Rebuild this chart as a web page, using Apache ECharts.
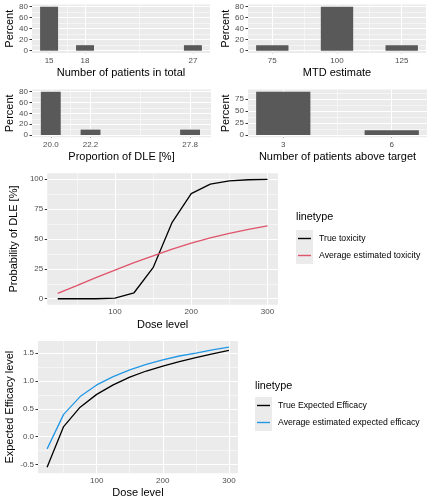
<!DOCTYPE html>
<html>
<head>
<meta charset="utf-8">
<script src="https://cdn.jsdelivr.net/npm/echarts@6/dist/echarts.min.js"></script>
<style>
html, body { margin: 0; padding: 0; background: #fff; }
#main { width: 432px; height: 504px; }
</style>
</head>
<body>
<div id="main"></div>
<script>
// histogram data (percent of simulated trials)
var totalN = [15, 18, 27];
var totalPct = [80, 10, 10];
var mtdEst = [75, 100, 125];
var mtdPct = [10, 80, 10];
var dleProp = [20.0, 22.22, 27.78];
var dlePct = [80, 10, 10];
var aboveN = [3, 6];
var abovePct = [90, 10];

// dose-response curves
var doses = [25, 50, 75, 100, 125, 150, 175, 200, 225, 250, 275, 300];
var trueTox = [0, 0, 0, 0.5, 5, 26, 64, 88, 96, 98.7, 99.6, 99.9];
var estTox = [4.5, 11, 17.6, 24, 30.2, 35.8, 41.5, 46.5, 51, 54.7, 58, 60.9];
var trueEff = [-0.55, 0.18, 0.53, 0.76, 0.93, 1.07, 1.18, 1.27, 1.35, 1.42, 1.49, 1.55];
var estEff = [-0.22, 0.40, 0.72, 0.93, 1.08, 1.20, 1.30, 1.38, 1.45, 1.50, 1.56, 1.61];

// tick labels
var pctTicks = [0, 20, 40, 60, 80];
var aboveTicks = [0, 25, 50, 75];
var doseTicks = [100, 200, 300];
var toxTicks = [0, 25, 50, 75, 100];
var effTicks = [-0.5, 0, 0.5, 1, 1.5];

var FONT = '"Liberation Sans", Arial, sans-serif';
var chart = echarts.init(document.getElementById('main'));

// ggplot style 5% expansion
function expand(lo, hi) {
    var d = (hi - lo) * 0.05;
    return [lo - d, hi + d];
}
// minor breaks halfway between the majors
function minorOf(t, lo, hi) {
    var b = t.slice();
    if (lo < b[0]) b.unshift(b[0] - (b[1] - b[0]));
    if (hi > b[b.length - 1]) b.push(b[b.length - 1] + (b[b.length - 1] - b[b.length - 2]));
    var out = [];
    for (var i = 0; i < b.length - 1; i++) {
        var m = (b[i] + b[i + 1]) / 2;
        if (m > lo && m < hi) out.push(m);
    }
    return out;
}

var grids = [], xAxes = [], yAxes = [], series = [];

function addPanel(idx, box, xr, yr, xt, yt, xName, yName, xFmt, yFmt, gaps) {
    grids.push({
        left: box[0], top: box[1], width: box[2], height: box[3],
        show: true, backgroundColor: '#EBEBEB', borderWidth: 0
    });
    xAxes.push({
        gridIndex: idx, type: 'value', min: xr[0], max: xr[1],
        name: xName, nameLocation: 'middle', nameGap: gaps[0],
        nameTextStyle: { color: '#000', fontSize: 11, fontFamily: FONT },
        axisLine: { show: false },
        axisTick: { show: true, length: 2.5, customValues: xt, lineStyle: { color: '#333', width: 1 } },
        axisLabel: { customValues: xt, margin: gaps[1], color: '#4D4D4D', fontSize: 8, fontFamily: FONT, formatter: xFmt },
        splitLine: { show: false }
    });
    yAxes.push({
        gridIndex: idx, type: 'value', min: yr[0], max: yr[1],
        name: yName, nameLocation: 'middle', nameGap: gaps[2], nameRotate: 90,
        nameTextStyle: { color: '#000', fontSize: 11, fontFamily: FONT },
        axisLine: { show: false },
        axisTick: { show: true, length: 2.5, customValues: yt, lineStyle: { color: '#333', width: 1 } },
        axisLabel: { customValues: yt, margin: 4, color: '#4D4D4D', fontSize: 8, fontFamily: FONT, formatter: yFmt },
        splitLine: { show: false }
    });
    var lines = [];
    minorOf(xt, xr[0], xr[1]).forEach(function (v) { lines.push({ xAxis: v, lineStyle: { color: '#fff', width: 0.5, type: 'solid' } }); });
    minorOf(yt, yr[0], yr[1]).forEach(function (v) { lines.push({ yAxis: v, lineStyle: { color: '#fff', width: 0.5, type: 'solid' } }); });
    xt.forEach(function (v) { lines.push({ xAxis: v, lineStyle: { color: '#fff', width: 1, type: 'solid' } }); });
    yt.forEach(function (v) { lines.push({ yAxis: v, lineStyle: { color: '#fff', width: 1, type: 'solid' } }); });
    series.push({
        type: 'line', xAxisIndex: idx, yAxisIndex: idx, data: [], silent: true, z: 1,
        markLine: { silent: true, symbol: 'none', label: { show: false }, z: 1, animation: false, data: lines }
    });
}

function addHist(idx, box, xs, ys, w, yt, xName, xFmt, xr) {
    var r = xr || expand(Math.min.apply(null, xs) - w / 2, Math.max.apply(null, xs) + w / 2);
    var yr = expand(0, Math.max.apply(null, ys));
    addPanel(idx, box, r, yr, xs, yt, xName, 'Percent', xFmt, null, [14.5, 3.5, 17]);
    series.push({
        type: 'custom', xAxisIndex: idx, yAxisIndex: idx, z: 2,
        data: xs.map(function (x, i) { return [x, ys[i]]; }),
        renderItem: function (params, api) {
            var x = api.value(0), y = api.value(1);
            var p0 = api.coord([x - w / 2, y]);
            var p1 = api.coord([x + w / 2, 0]);
            return { type: 'rect', shape: { x: p0[0], y: p0[1], width: p1[0] - p0[0], height: p1[1] - p0[1] }, style: { fill: '#595959' } };
        }
    });
}

function fmt1(v) { return v.toFixed(1); }

addHist(0, [32, 4.5, 178, 48.4], totalN, totalPct, 1.5, pctTicks, 'Number of patients in total', null);
addHist(1, [248, 4.5, 178, 48.4], mtdEst, mtdPct, 12.5, pctTicks, 'MTD estimate', null);
addHist(2, [32, 89.5, 179, 47.7], dleProp, dlePct, 1.11, pctTicks, 'Proportion of DLE [%]', fmt1, [18.95, 28.95]);
addHist(3, [248, 89.6, 179, 47.6], aboveN, abovePct, 1.5, aboveTicks, 'Number of patients above target', null);

function pairs(xs, ys) { return xs.map(function (x, i) { return [x, ys[i]]; }); }

var doseR = expand(doses[0], doses[doses.length - 1]);
addPanel(4, [38, 173.3, 240, 131.4], doseR, expand(0, 100), doseTicks, toxTicks, 'Dose level', 'Probability of DLE [%]', null, null, [15, 3, 22.5]);
addPanel(5, [38, 341.1, 200, 132.1], doseR, expand(-0.55, 1.61), doseTicks, effTicks, 'Dose level', 'Expected Efficacy level', null, fmt1, [14.5, 3.5, 22.5]);

series.push({ name: 'True toxicity', type: 'line', xAxisIndex: 4, yAxisIndex: 4, data: pairs(doses, trueTox), symbol: 'none', color: '#000000', lineStyle: { width: 1.3 }, z: 3 });
series.push({ name: 'Average estimated toxicity', type: 'line', xAxisIndex: 4, yAxisIndex: 4, data: pairs(doses, estTox), symbol: 'none', color: '#DF536B', lineStyle: { width: 1.3 }, z: 3 });
series.push({ name: 'True Expected Efficacy', type: 'line', xAxisIndex: 5, yAxisIndex: 5, data: pairs(doses, trueEff), symbol: 'none', color: '#000000', lineStyle: { width: 1.3 }, z: 3 });
series.push({ name: 'Average estimated expected efficacy', type: 'line', xAxisIndex: 5, yAxisIndex: 5, data: pairs(doses, estEff), symbol: 'none', color: '#2297E6', lineStyle: { width: 1.3 }, z: 3 });

function legendAt(left, top, names) {
    return {
        left: left, top: top, orient: 'vertical', padding: 0, itemGap: 0,
        icon: 'rect', itemWidth: 13, itemHeight: 1.4,
        selectedMode: false, data: names,
        textStyle: { fontSize: 8.7, color: '#000', fontFamily: FONT, lineHeight: 17, padding: [0, 0, 0, 3] }
    };
}

chart.setOption({
    animation: false,
    textStyle: { fontFamily: FONT },
    title: [
        { text: 'linetype', left: 296, top: 212, padding: 0, textStyle: { fontSize: 10.8, fontWeight: 'normal', color: '#000', fontFamily: FONT } },
        { text: 'linetype', left: 255, top: 381, padding: 0, textStyle: { fontSize: 10.8, fontWeight: 'normal', color: '#000', fontFamily: FONT } }
    ],
    graphic: [
        { type: 'rect', shape: { x: 296, y: 230, width: 17, height: 34 }, style: { fill: '#EBEBEB' }, z: -1 },
        { type: 'rect', shape: { x: 255, y: 397, width: 17, height: 34 }, style: { fill: '#EBEBEB' }, z: -1 }
    ],
    legend: [
        legendAt(298, 230, ['True toxicity', 'Average estimated toxicity']),
        legendAt(257, 397, ['True Expected Efficacy', 'Average estimated expected efficacy'])
    ],
    grid: grids,
    xAxis: xAxes,
    yAxis: yAxes,
    series: series
});
</script>
</body>
</html>
